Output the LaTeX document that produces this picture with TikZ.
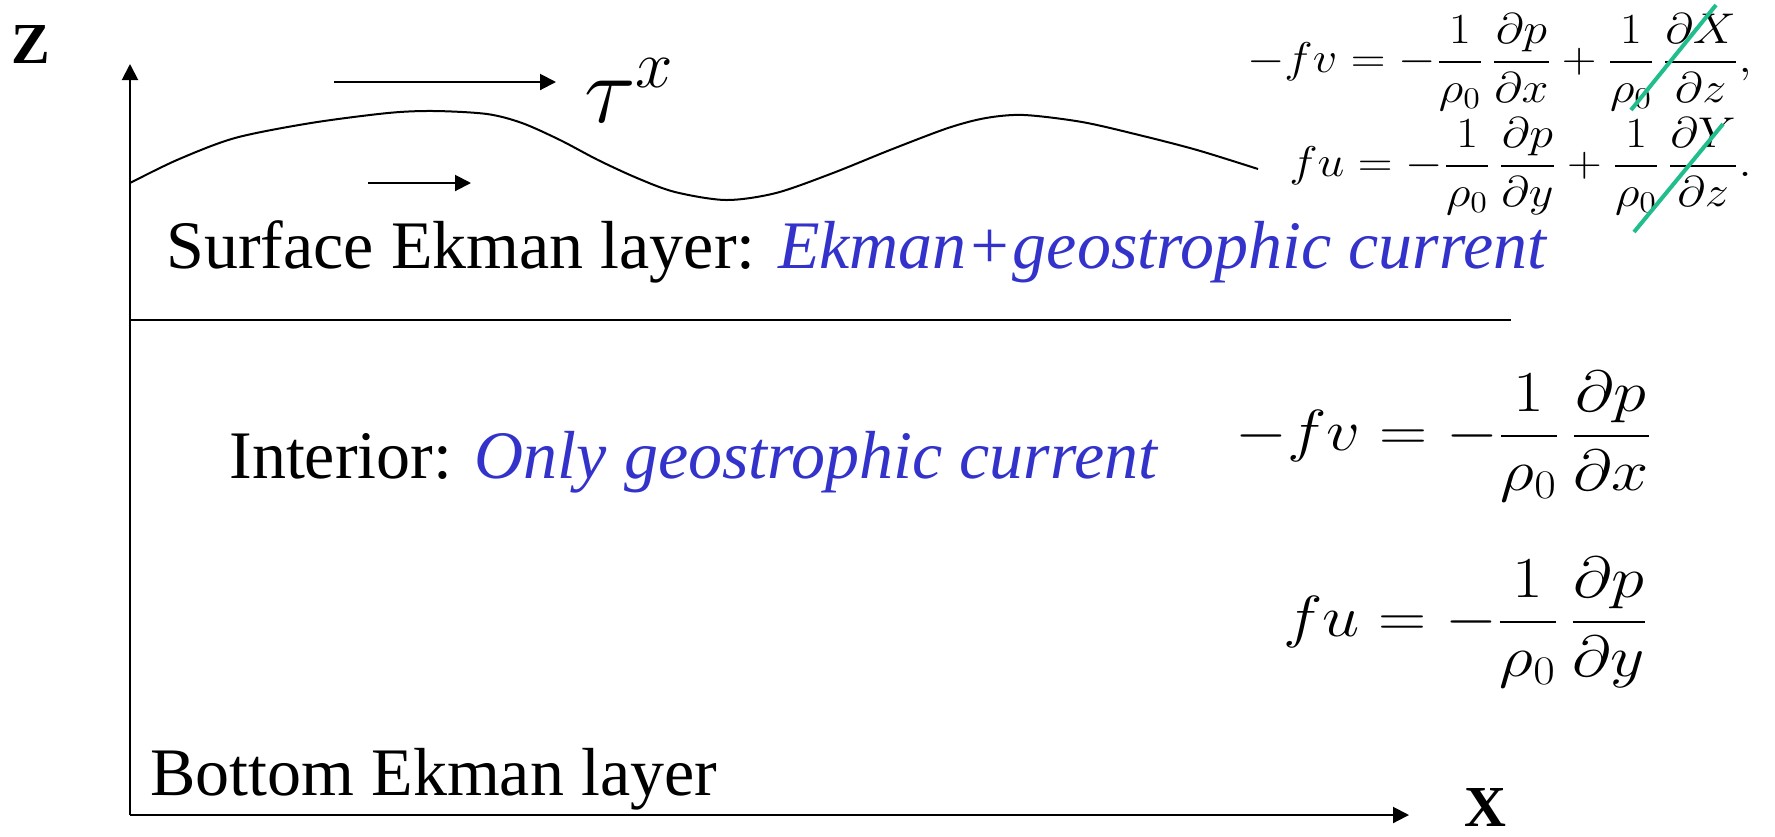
\RequirePackage{fix-cm}
\documentclass[tikz,border=0pt]{standalone}
\usepackage{amsmath,amssymb}
\usepackage{graphicx}
\usepackage{fontspec}
\newfontfamily\tnr{Liberation Serif}
\usetikzlibrary{arrows.meta,positioning,calc}

\definecolor{ekblue}{RGB}{51,51,204}
\definecolor{strikegreen}{RGB}{32,190,140}

\tikzset{
  layertext/.style={font=\tnr\fontsize{34}{40}\selectfont, anchor=base west, inner sep=0pt},
  axislabel/.style={font=\tnr\bfseries\fontsize{29}{33}\selectfont, inner sep=0pt},
  smalleq/.style={font=\fontsize{21.5}{26}\selectfont, anchor=east, inner sep=0pt},
  bigeq/.style={font=\fontsize{29}{34}\selectfont, anchor=east, inner sep=0pt},
  strike/.style={strikegreen, line width=2pt},
  arr/.style={-{Triangle[length=8pt,width=8pt]}, line width=1pt},
}

\begin{document}
\begin{tikzpicture}[x=0.5pt,y=-0.5pt]
    \useasboundingbox (0,0) rectangle (1775,836);

    % Axes
    \coordinate (O) at (130,815);
    \coordinate (ztip) at (130,64);
    \coordinate (xtip) at (1409,815);
    \draw[arr] (O) -- (ztip);
    \draw[arr] (O) -- (xtip);
    \node[axislabel] (zlab) at (31,45) {Z};
    \node[axislabel] (xlab) at (1485,807) {X};

    % Wind stress and surface current
    \coordinate (windA) at (334,82);
    \coordinate (windB) at (556,82);
    \draw[arr] (windA) -- (windB);
    \node[font=\fontsize{48}{54}\selectfont, anchor=base west, inner sep=0pt] (tau) at (584,122) {$\tau^x$};
    \coordinate (curA) at (368,183);
    \coordinate (curB) at (471,183);
    \draw[arr] (curA) -- (curB);

    % Sea surface
    \draw[line width=1pt] plot[smooth, tension=0.5] coordinates {(130,183) (177,160) (235,138) (311,123) (388,113) (434,111) (487,114) (522,123) (560,140) (598,160) (637,178) (675,192) (726,200) (776,193) (833,173) (890,150) (948,128) (986,118) (1024,115) (1082,122) (1139,135) (1197,150) (1258,169)};

    % Base of the surface Ekman layer
    \coordinate (ekL) at (130,320);
    \coordinate (ekR) at (1511,320);
    \draw[line width=0.8pt] (ekL) -- (ekR);

    % Layer labels
    \node[layertext] (surf) at (166,268) {Surface Ekman layer: \textcolor{ekblue}{\itshape Ekman+geostrophic current}};
    \node[layertext] (inter) at (229,478) {Interior: \textcolor{ekblue}{\itshape Only geostrophic current}};
    \node[layertext] (bott) at (150,795) {Bottom Ekman layer};

    % Full momentum balance, stress terms struck out
    \node[smalleq] (eqv) at (1752,62) {\scalebox{1.12}[1]{$\displaystyle -fv=-\frac{1}{\rho_0}\,\frac{\partial p}{\partial x}+\frac{1}{\rho_0}\,\frac{\partial X}{\partial z},$}};
    \node[smalleq] (equ) at (1752,166) {\scalebox{1.12}[1]{$\displaystyle fu=-\frac{1}{\rho_0}\,\frac{\partial p}{\partial y}+\frac{1}{\rho_0}\,\frac{\partial Y}{\partial z}.$}};
    \draw[strike] (1631,110) -- (1716,5);
    \draw[strike] (1634,232) -- (1723,124);

    % Geostrophic balance
    \node[bigeq] (geov) at (1652,436) {\scalebox{1.15}[1]{$\displaystyle -fv=-\frac{1}{\rho_0}\,\frac{\partial p}{\partial x}$}};
    \node[bigeq] (geou) at (1648,622) {\scalebox{1.15}[1]{$\displaystyle fu=-\frac{1}{\rho_0}\,\frac{\partial p}{\partial y}$}};
\end{tikzpicture}
\end{document}
